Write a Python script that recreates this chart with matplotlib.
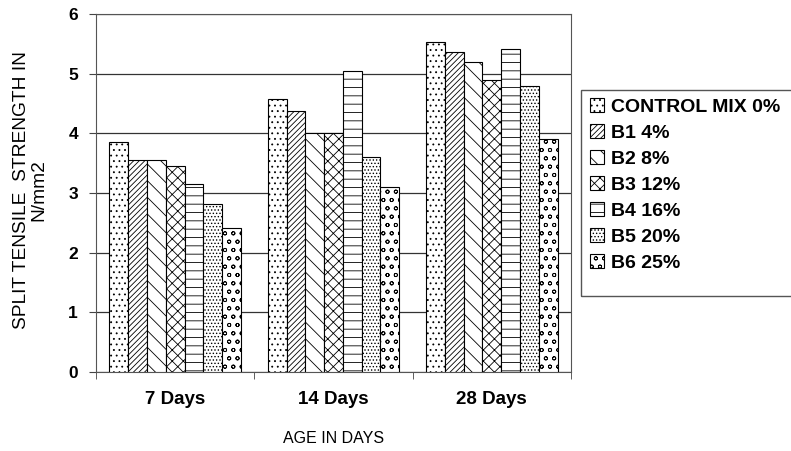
import matplotlib.pyplot as plt
from matplotlib.patches import Rectangle
import numpy as np

plt.rcParams['font.family'] = ['Liberation Sans', 'DejaVu Sans']
plt.rcParams['hatch.linewidth'] = 0.6

# Split tensile strength (N/mm2) by curing age
ages = ['7 Days', '14 Days', '28 Days']
mixes = ['CONTROL MIX 0%', 'B1 4%', 'B2 8%', 'B3 12%', 'B4 16%', 'B5 20%', 'B6 25%']
control = [3.86, 4.58, 5.53]
b1 = [3.56, 4.38, 5.36]
b2 = [3.56, 4.01, 5.20]
b3 = [3.46, 4.01, 4.90]
b4 = [3.15, 5.05, 5.42]
b5 = [2.81, 3.61, 4.79]
b6 = [2.42, 3.10, 3.91]
series = [control, b1, b2, b3, b4, b5, b6]
hatches = ['...', '//////', '\\\\', 'xxx', '--', '.....', 'oo']

fig = plt.figure(figsize=(7.91, 4.51), dpi=100)
ax = fig.add_axes([96/791, 1 - 372/451, 475/791, 358/451])

x = np.arange(len(ages))
width = 0.83 / len(mixes)
for i, (vals, h, name) in enumerate(zip(series, hatches, mixes)):
    offs = (i - (len(mixes) - 1) / 2) * width
    ax.bar(x + offs, vals, width, color='white', edgecolor='black',
           linewidth=0.8, hatch=h, label=name, zorder=3)

ax.set_xlim(-0.5, 2.5)
ax.set_ylim(0, 6)
ax.set_yticks(range(7))
ax.set_xticks(x)
ax.set_xticklabels(ages, fontsize=13.5, fontweight='bold')
ax.set_xticks([-0.5, 0.5, 1.5, 2.5], minor=True)
ax.tick_params(axis='x', which='major', length=0, pad=14)
ax.tick_params(axis='x', which='minor', length=5, color='#444444')
ax.tick_params(axis='y', length=5, color='#444444', labelsize=12.5, pad=8)
for lbl in ax.get_yticklabels():
    lbl.set_fontweight('bold')
ax.yaxis.grid(True, color='#333333', linewidth=0.9, zorder=0)
for s in ax.spines.values():
    s.set_color('#555555')

ax.set_xlabel('AGE IN DAYS', fontsize=11.5, labelpad=16)
fig.text(30/791, 1 - 190/451, 'SPLIT TENSILE  STRENGTH IN\nN/mm2',
         rotation=90, ha='center', va='center', multialignment='center',
         fontsize=13.8, linespacing=1.0)

ax.legend(loc='upper left', bbox_to_anchor=(581/791, 1 - 89/451),
          bbox_transform=fig.transFigure, frameon=False,
          prop={'weight': 'bold', 'size': 14}, handlelength=0.75,
          handleheight=0.75, handletextpad=0.35, labelspacing=0.42,
          borderpad=0.45, borderaxespad=0)
# legend box, taller than the entries
fig.patches.append(Rectangle((581/791, 1 - 296/451), 230/791, 206/451,
                             transform=fig.transFigure, fill=False,
                             edgecolor='#555555', linewidth=1.0))

fig.savefig('out.png', dpi=100)
